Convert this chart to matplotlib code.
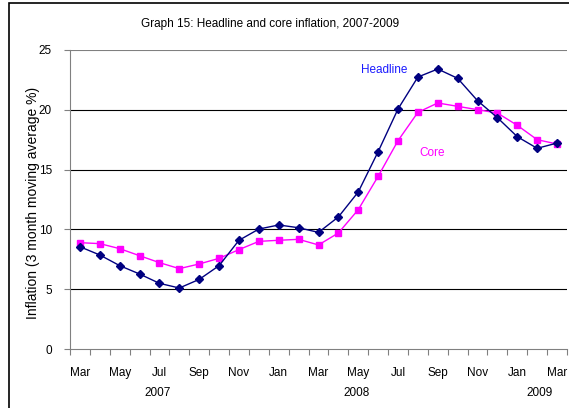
import numpy as np
import matplotlib.pyplot as plt
import matplotlib.transforms as mtransforms
from matplotlib.patches import Rectangle

plt.rcParams['font.family'] = ['Liberation Sans', 'DejaVu Sans']

# monthly series, Mar 2007 - Mar 2009
months = ['Mar', 'Apr', 'May', 'Jun', 'Jul', 'Aug', 'Sep', 'Oct', 'Nov', 'Dec',
          'Jan', 'Feb', 'Mar', 'Apr', 'May', 'Jun', 'Jul', 'Aug', 'Sep', 'Oct',
          'Nov', 'Dec', 'Jan', 'Feb', 'Mar']
headline = [8.55, 7.86, 6.97, 6.27, 5.49, 5.10, 5.82, 6.97, 9.09, 10.03,
            10.37, 10.14, 9.75, 11.04, 13.13, 16.50, 20.07, 22.74, 23.41, 22.63,
            20.76, 19.34, 17.75, 16.78, 17.22]
core = [8.89, 8.81, 8.39, 7.80, 7.22, 6.72, 7.11, 7.58, 8.31, 9.00,
        9.09, 9.17, 8.70, 9.70, 11.65, 14.44, 17.42, 19.79, 20.57, 20.29,
        20.01, 19.73, 18.70, 17.50, 17.14]
years = ['2007', '2008', '2009']
year_pos = [3.9, 13.9, 23.1]
yticks = [0, 5, 10, 15, 20, 25]
fs = 8.5

fig = plt.figure(figsize=(5.69, 4.08), dpi=100)
ax = fig.add_axes([70/569, 1-349/408, 497/569, 299/408])

x = np.arange(len(months))
ax.plot(x, headline, color='#000080', lw=1.0, marker='D', ms=4.5, zorder=3)
ax.plot(x, core, color='#FF00FF', lw=1.0, marker='s', ms=5, zorder=2)

ax.set_xlim(-0.5, len(months) - 0.5)
ax.set_ylim(0, 25)
ax.set_yticks(yticks)
for v in yticks[1:]:
    ax.axhline(v, color='black' if v < 25 else '#808080', lw=0.8, zorder=1)

# tick marks sit between categories, labels on every second month
ax.set_xticks(np.arange(-0.5, len(months)), labels=[])
ax.set_xticks(x[::2], labels=months[::2], minor=True)
ax.tick_params(axis='x', which='major', length=4, width=0.8, color='#808080', direction='out')
ax.tick_params(axis='x', which='minor', length=0, pad=13, labelsize=fs)
ax.tick_params(axis='y', length=4, width=0.8, color='#808080', pad=9, labelsize=fs)

for s in ['top', 'right']:
    ax.spines[s].set_visible(False)
ax.spines['left'].set_color('#808080')
ax.spines['bottom'].set_color('#808080')

trans = mtransforms.blended_transform_factory(ax.transData, ax.transAxes)
for yr, p in zip(years, year_pos):
    ax.text(p, -0.146, yr, transform=trans, ha='center', va='center', fontsize=fs)

ax.set_ylabel('Inflation (3 month moving average %)', fontsize=10)
ax.yaxis.set_label_coords(-(70 - 40)/497, (349 - 203)/299)

ax.text(15.3, 23.3, 'Headline', color='#1a1aff', fontsize=fs, ha='center', va='center')
ax.text(17.7, 16.4, 'Core', color='#FF00FF', fontsize=fs, ha='center', va='center')

fig.text(270/569, 1-24/408, 'Graph 15: Headline and core inflation, 2007-2009',
         ha='center', va='center', fontsize=fs)

fig.patches.append(Rectangle((9/569, -0.1), 2, 1.1 - 3/408, transform=fig.transFigure,
                             fill=False, lw=1.2, edgecolor='black'))

fig.savefig('out.png', dpi=100)
